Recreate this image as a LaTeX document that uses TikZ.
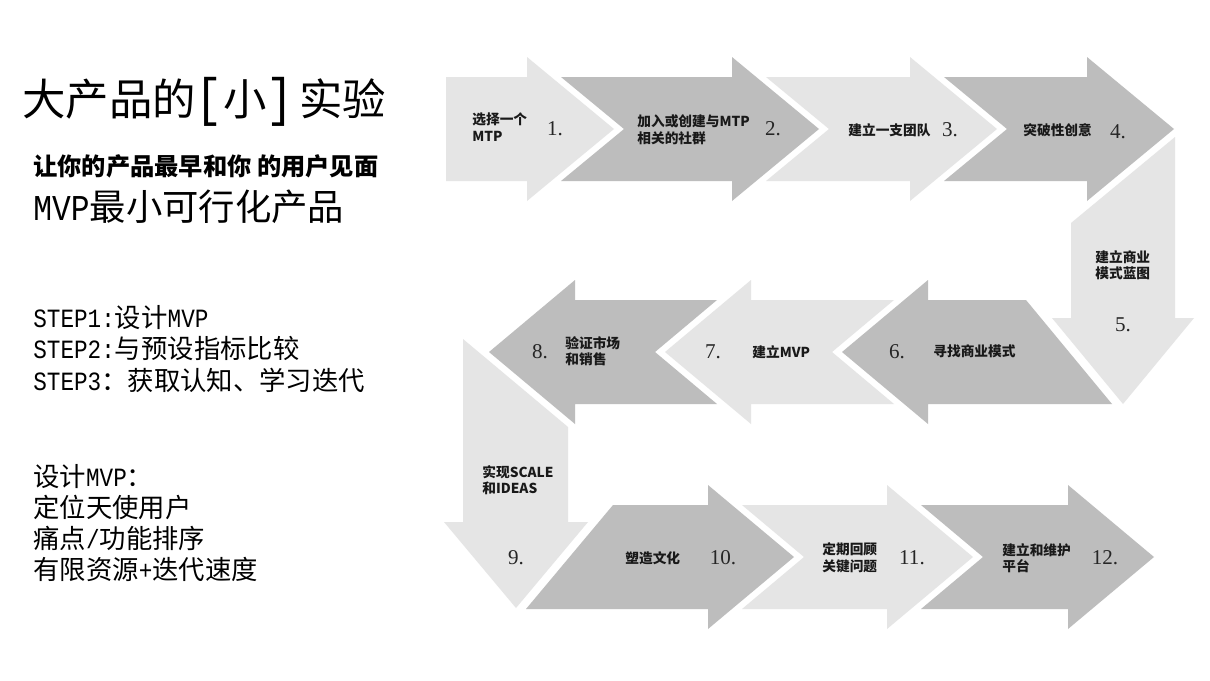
\documentclass[tikz,border=0pt]{standalone}
\usepackage{fontspec}
\usepackage{xcolor}
\usepackage{tikz}
\newfontfamily\cjk{Noto Sans CJK SC}
\newfontfamily\numfont{Liberation Serif}
\newfontfamily\latinmono[FakeStretch=0.86]{Liberation Mono}
\definecolor{stepLight}{HTML}{E5E5E5}
\definecolor{stepDark}{HTML}{BDBDBD}
\newcommand{\tallbracket}[1]{{\latinmono\fontsize{30}{30}\selectfont #1}}

\begin{document}
\begin{tikzpicture}[x=0.02cm, y=-0.02cm,
    lbl/.style={font=\cjk\bfseries\fontsize{7.8}{9.4}\selectfont, align=left, anchor=west, inner sep=0pt, text=black!90},
    num/.style={font=\numfont\fontsize{12}{14}\selectfont, inner sep=0pt, text=black!85},
    side/.style={anchor=west, inner sep=0pt, align=left}]
      \fill[white] (0,0) rectangle (1210,680);
      \useasboundingbox (0,0) rectangle (1210,680);
      \fill[stepLight] (446,77) -- (527,77) -- (527,57) -- (614,129) -- (527,201) -- (527,181) -- (446,181) -- cycle;
      \fill[stepDark] (561,77) -- (732,77) -- (732,57) -- (819,129) -- (732,201) -- (732,181) -- (561,181) -- (624,129) -- cycle;
      \fill[stepLight] (766,77) -- (910,77) -- (910,57) -- (997,129) -- (910,201) -- (910,181) -- (766,181) -- (829,129) -- cycle;
      \fill[stepDark] (944,77) -- (1087,77) -- (1087,57) -- (1174,129) -- (1087,201) -- (1087,181) -- (944,181) -- (1007,129) -- cycle;
      \fill[stepLight] (1071,223) -- (1175,137) -- (1175,318) -- (1194,318) -- (1123,404) -- (1052,318) -- (1071,318) -- cycle;
      \fill[stepDark] (842,352) -- (928,280) -- (928,300) -- (1026,300) -- (1112,404) -- (928,404) -- (928,424) -- cycle;
      \fill[stepLight] (665,352) -- (751,280) -- (751,300) -- (894,300) -- (832,352) -- (894,404) -- (751,404) -- (751,424) -- cycle;
      \fill[stepDark] (489,352) -- (575,280) -- (575,300) -- (717,300) -- (655,352) -- (717,404) -- (575,404) -- (575,424) -- cycle;
      \fill[stepLight] (463,339) -- (568,427) -- (568,522) -- (588,522) -- (516,608) -- (444,522) -- (463,522) -- cycle;
      \fill[stepDark] (613,505) -- (708,505) -- (708,485) -- (794,557) -- (708,629) -- (708,609) -- (526,609) -- cycle;
      \fill[stepLight] (742,505) -- (887,505) -- (887,485) -- (973,557) -- (887,629) -- (887,609) -- (742,609) -- (804,557) -- cycle;
      \fill[stepDark] (921,505) -- (1068,505) -- (1068,485) -- (1154,557) -- (1068,629) -- (1068,609) -- (921,609) -- (983,557) -- cycle;
      \node[lbl] (t1) at (472,127) {选择一个\\MTP};
      \node[num] (n1) at (555,129) {1.};
      \node[lbl] (t2) at (637,130) {加入或创建与MTP\\相关的社群};
      \node[num] (n2) at (773,129) {2.};
      \node[lbl] (t3) at (848,130) {建立一支团队};
      \node[num] (n3) at (950,130) {3.};
      \node[lbl] (t4) at (1023,130) {突破性创意};
      \node[num] (n4) at (1118,132) {4.};
      \node[lbl] (t5) at (1095,265) {建立商业\\模式蓝图};
      \node[num] (n5) at (1123,325) {5.};
      \node[num] (n6) at (897,352) {6.};
      \node[lbl] (t6) at (933,351) {寻找商业模式};
      \node[num] (n7) at (713,352) {7.};
      \node[lbl] (t7) at (752,352) {建立MVP};
      \node[num] (n8) at (540,352) {8.};
      \node[lbl] (t8) at (565,351) {验证市场\\和销售};
      \node[lbl] (t9) at (482,480) {实现SCALE\\和IDEAS};
      \node[num] (n9) at (516,558) {9.};
      \node[lbl] (t10) at (625,558) {塑造文化};
      \node[num] (n10) at (723,558) {10.};
      \node[lbl] (t11) at (822,558) {定期回顾\\关键问题};
      \node[num] (n11) at (912,558) {11.};
      \node[lbl] (t12) at (1002,558) {建立和维护\\平台};
      \node[num] (n12) at (1105,558) {12.};
      \node[side, font=\cjk\fontsize{24.7}{28}\selectfont] (title) at (22,102) {大产品的\tallbracket{[}小\tallbracket{]}\hspace{3pt}实验};
      \node[side, font=\cjk\bfseries\fontsize{13.8}{16}\selectfont] (slogan) at (33,166) {让你的产品最早和你 的用户见面};
      \node[side, font=\cjk\fontsize{20.7}{24}\selectfont] (mvp) at (33,207) {{\latinmono MVP}最小可行化产品};
      \node[side, font=\cjk\fontsize{15}{17.8}\selectfont] (steps) at (33,349) {{\latinmono STEP1:}设计{\latinmono MVP}\\{\latinmono STEP2:}与预设指标比较\\{\latinmono STEP3}：获取认知、学习迭代};
      \node[side, font=\cjk\fontsize{15}{17.8}\selectfont] (design) at (33,523) {设计{\latinmono MVP}：\\定位天使用户\\痛点{\latinmono /}功能排序\\有限资源{\latinmono +}迭代速度};
    \end{tikzpicture}
\end{document}
